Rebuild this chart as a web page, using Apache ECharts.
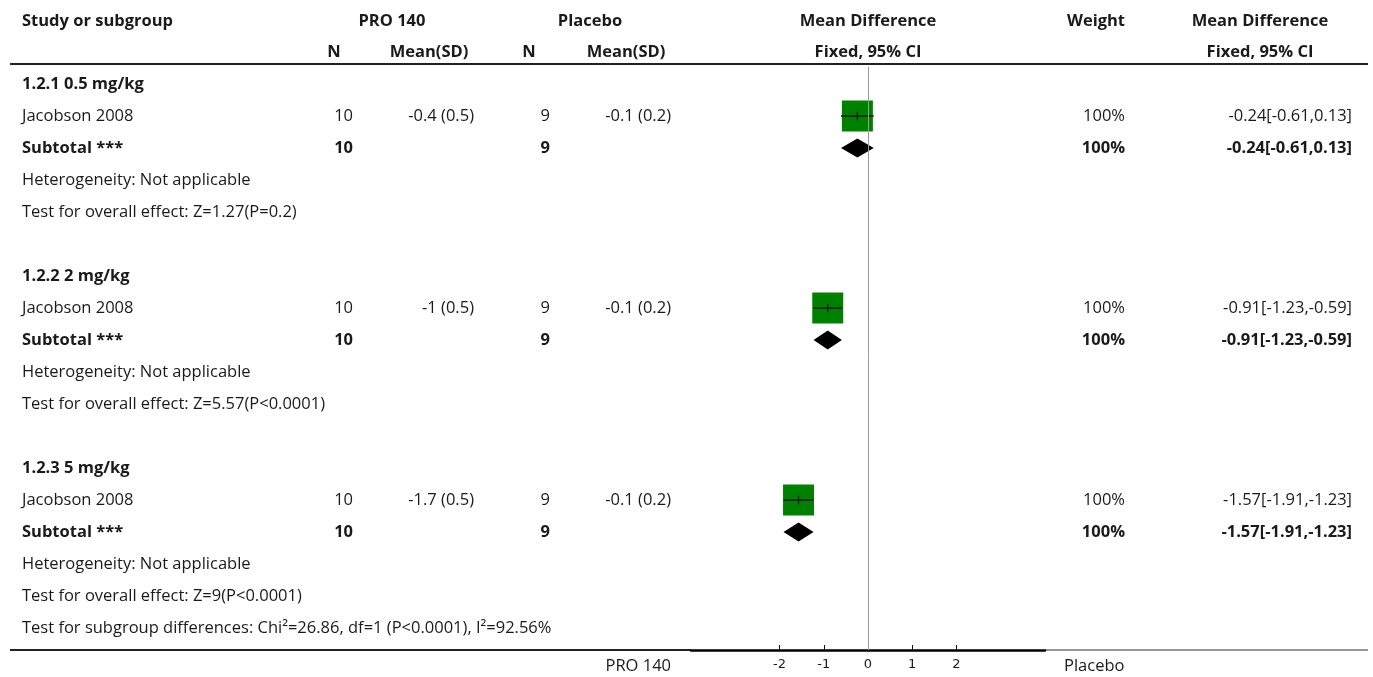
<!DOCTYPE html>
<html>
<head>
<meta charset="utf-8">
<script src="https://cdn.jsdelivr.net/npm/echarts@6/dist/echarts.min.js"></script>
<style>
html,body{margin:0;padding:0;background:#fff;}
#main{width:1373px;height:677px;}
</style>
</head>
<body>
<div id="main"></div>
<script>
// ---- data ----
const subgroupLabels = ['1.2.1 0.5 mg/kg', '1.2.2 2 mg/kg', '1.2.3 5 mg/kg'];
const studyNames = ['Jacobson 2008', 'Jacobson 2008', 'Jacobson 2008'];
const treatN = [10, 10, 10];
const treatMean = [-0.4, -1, -1.7];
const treatSD = [0.5, 0.5, 0.5];
const ctrlN = [9, 9, 9];
const ctrlMean = [-0.1, -0.1, -0.1];
const ctrlSD = [0.2, 0.2, 0.2];
const meanDiff = [-0.24, -0.91, -1.57];
const ciLow = [-0.61, -1.23, -1.91];
const ciHigh = [0.13, -0.59, -1.23];
const weights = ['100%', '100%', '100%'];
const heterogeneity = ['Heterogeneity: Not applicable', 'Heterogeneity: Not applicable', 'Heterogeneity: Not applicable'];
const overallEffect = ['Test for overall effect: Z=1.27(P=0.2)', 'Test for overall effect: Z=5.57(P<0.0001)', 'Test for overall effect: Z=9(P<0.0001)'];
const subgroupTest = 'Test for subgroup differences: Chi\u00b2=26.86, df=1 (P<0.0001), I\u00b2=92.56%';
const xTicks = [-2, -1, 0, 1, 2];
const favoursLeft = 'PRO 140';
const favoursRight = 'Placebo';

// ---- layout ----
const FONT = '"Open Sans"';
const FS = 16.5;
const FSB = 16.5;
const TXT = '#1a1a1a';
const COL = { study: 22, tN: 353, tMean: 474, cN: 550, cMean: 671, weight: 1125, md: 1352 };

function fmtCI(i) {
  return meanDiff[i].toFixed(2) + '[' + ciLow[i].toFixed(2) + ',' + ciHigh[i].toFixed(2) + ']';
}

// build table rows
const tableRows = [];
const studyPts = [];
const diamondPts = [];
subgroupLabels.forEach((lab, g) => {
  const b = g * 6;
  tableRows.push({ row: b, cells: [[COL.study, lab, 'left', true]] });
  tableRows.push({ row: b + 1, cells: [
    [COL.study, studyNames[g], 'left', false],
    [COL.tN, String(treatN[g]), 'right', false],
    [COL.tMean, treatMean[g] + ' (' + treatSD[g] + ')', 'right', false],
    [COL.cN, String(ctrlN[g]), 'right', false],
    [COL.cMean, ctrlMean[g] + ' (' + ctrlSD[g] + ')', 'right', false],
    [COL.weight, weights[g], 'right', false],
    [COL.md, fmtCI(g), 'right', false]
  ]});
  tableRows.push({ row: b + 2, cells: [
    [COL.study, 'Subtotal ***', 'left', true],
    [COL.tN, String(treatN[g]), 'right', true],
    [COL.cN, String(ctrlN[g]), 'right', true],
    [COL.weight, weights[g], 'right', true],
    [COL.md, fmtCI(g), 'right', true]
  ]});
  tableRows.push({ row: b + 3, cells: [[COL.study, heterogeneity[g], 'left', false]] });
  tableRows.push({ row: b + 4, cells: [[COL.study, overallEffect[g], 'left', false]] });
  studyPts.push([meanDiff[g], b + 1, ciLow[g], ciHigh[g]]);
  diamondPts.push([meanDiff[g], b + 2, ciLow[g], ciHigh[g]]);
});
tableRows.push({ row: 17, cells: [[COL.study, subgroupTest, 'left', false]] });

const chart = echarts.init(document.getElementById('main'));

function txt(x, y, s, align, bold, size, family) {
  return {
    type: 'text', x: x, y: y,
    style: {
      text: s, fill: TXT, font: (bold ? 'bold ' : '') + (size || (bold ? FSB : FS)) + 'px ' + (family || FONT),
      align: align, verticalAlign: 'middle'
    }
  };
}

const option = {
  animation: false,
  backgroundColor: '#fff',
  grid: { left: 691, width: 354, top: 67, height: 583, containLabel: false },
  xAxis: {
    type: 'value', min: -4, max: 4, interval: 1, position: 'bottom',
    splitLine: { show: false },
    axisLine: { show: true, onZero: false, lineStyle: { color: '#000', width: 2.5 } },
    axisTick: { show: true, inside: true, length: 5, customValues: xTicks, lineStyle: { color: '#111', width: 1 } },
    axisLabel: { show: true, customValues: xTicks, margin: 8, color: TXT, fontFamily: 'DejaVu Sans', fontSize: 13 }
  },
  yAxis: {
    type: 'value', min: -0.53125, max: 17.6875, inverse: true, show: false
  },
  graphic: [
    txt(22, 21, 'Study or subgroup', 'left', true),
    txt(392, 21, 'PRO 140', 'center', true),
    txt(590, 21, 'Placebo', 'center', true),
    txt(868, 21, 'Mean Difference', 'center', true),
    txt(1096, 21, 'Weight', 'center', true),
    txt(1260, 21, 'Mean Difference', 'center', true),
    txt(334, 52, 'N', 'center', true),
    txt(429, 52, 'Mean(SD)', 'center', true),
    txt(529, 52, 'N', 'center', true),
    txt(626, 52, 'Mean(SD)', 'center', true),
    txt(868, 52, 'Fixed, 95% CI', 'center', true),
    txt(1260, 52, 'Fixed, 95% CI', 'center', true),
    { type: 'line', shape: { x1: 10, y1: 64, x2: 1368, y2: 64 }, style: { stroke: '#222', lineWidth: 2 } },
    { type: 'line', shape: { x1: 10, y1: 650, x2: 691, y2: 650 }, style: { stroke: '#222', lineWidth: 2 } },
    { type: 'line', shape: { x1: 1045, y1: 650, x2: 1368, y2: 650 }, style: { stroke: '#333', lineWidth: 1.2 } },
    txt(671, 666, favoursLeft, 'right', false, 16.5),
    txt(1064, 666, favoursRight, 'left', false, 16.5)
  ],
  series: [
    {
      type: 'custom', name: 'table', silent: true,
      data: tableRows.map((r, i) => [0, r.row, i]),
      encode: { x: 0, y: 1 },
      renderItem: function (params, api) {
        const r = tableRows[api.value(2)];
        const y = api.coord([0, api.value(1)])[1];
        return {
          type: 'group',
          children: r.cells.map(c => txt(c[0], y, c[1], c[2], c[3]))
        };
      },
      z: 5
    },
    {
      type: 'custom', name: 'studies', silent: true,
      data: studyPts,
      encode: { x: 0, y: 1 },
      renderItem: function (params, api) {
        const c = api.coord([api.value(0), api.value(1)]);
        const lo = api.coord([api.value(2), api.value(1)]);
        const hi = api.coord([api.value(3), api.value(1)]);
        const s = 31;
        return {
          type: 'group',
          children: [
            { type: 'rect', shape: { x: c[0] - s / 2, y: c[1] - s / 2, width: s, height: s }, style: { fill: '#008000' } },
            { type: 'line', shape: { x1: lo[0], y1: c[1], x2: hi[0], y2: c[1] }, style: { stroke: '#1a1a1a', lineWidth: 1.5 } },
            { type: 'line', shape: { x1: c[0], y1: c[1] - 4.5, x2: c[0], y2: c[1] + 4.5 }, style: { stroke: '#1a1a1a', lineWidth: 1.2 } }
          ]
        };
      },
      markLine: {
        silent: true, symbol: 'none', label: { show: false },
        lineStyle: { color: '#999', width: 1, type: 'solid' },
        data: [{ xAxis: 0 }]
      },
      z: 3
    },
    {
      type: 'custom', name: 'subtotals', silent: true,
      data: diamondPts,
      encode: { x: 0, y: 1 },
      renderItem: function (params, api) {
        const c = api.coord([api.value(0), api.value(1)]);
        const lo = api.coord([api.value(2), api.value(1)]);
        const hi = api.coord([api.value(3), api.value(1)]);
        const h = 9.5;
        return {
          type: 'polygon',
          shape: { points: [[lo[0], c[1]], [c[0], c[1] - h], [hi[0], c[1]], [c[0], c[1] + h]] },
          style: { fill: '#000' }
        };
      },
      z: 3
    }
  ]
};
chart.setOption(option);
</script>
</body>
</html>
